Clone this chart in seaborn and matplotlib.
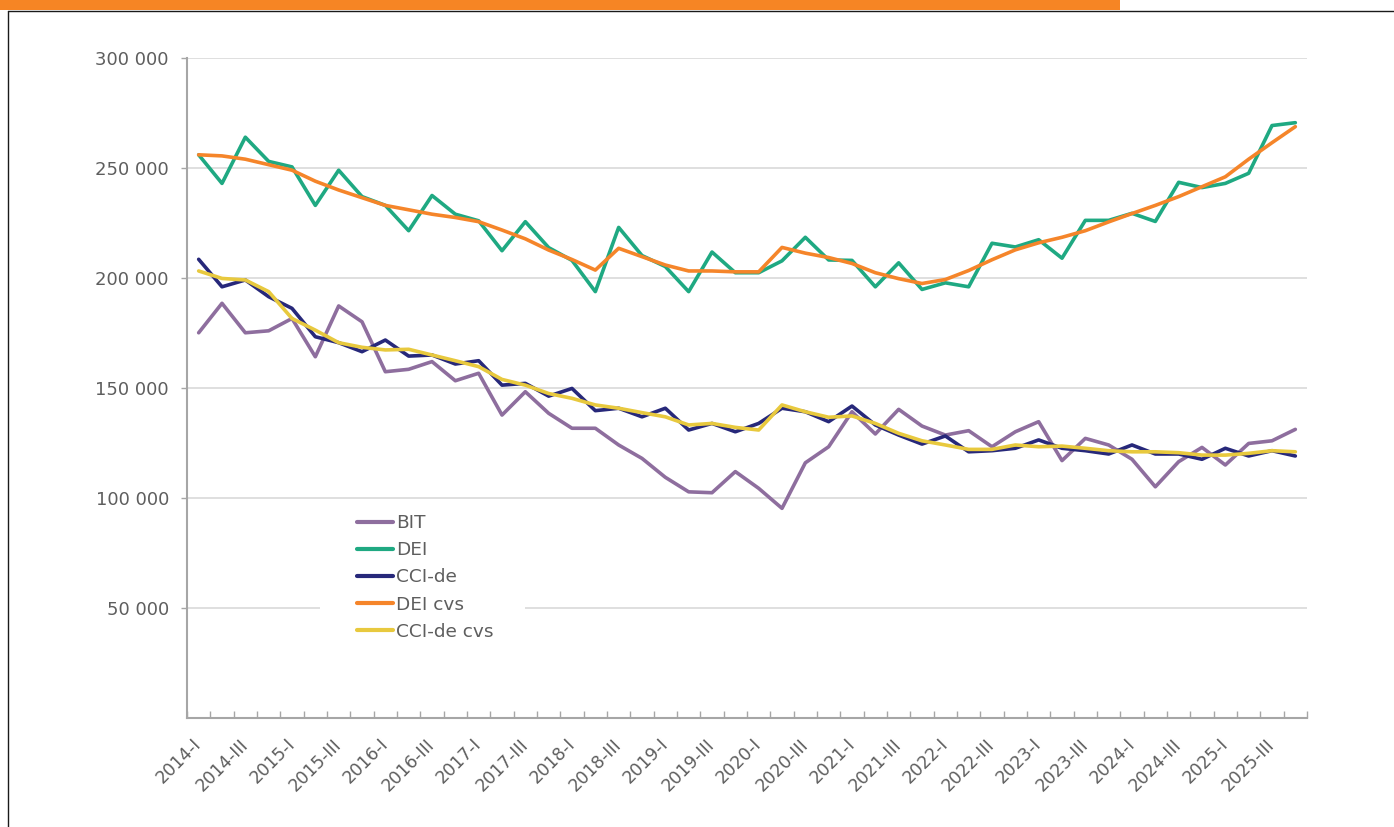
import numpy as np
import pandas as pd
import matplotlib
matplotlib.use('Agg')
import matplotlib.pyplot as plt
from matplotlib.ticker import FuncFormatter
from matplotlib.patches import Rectangle
from matplotlib.lines import Line2D
import seaborn as sns

# quarters 2014-I .. 2025-IV
quarters = [f"{y}-{q}" for y in range(2014, 2026) for q in ["I", "II", "III", "IV"]]

bit = [175100, 188500, 175100, 176000, 181600, 164200, 187300, 180100, 157400, 158500,
       162000, 153300, 156700, 137700, 148300, 138500, 131700, 131700, 124100, 118000,
       109400, 102800, 102400, 112000, 104400, 95300, 116000, 123300, 139200, 129100,
       140300, 132700, 128600, 130600, 123300, 130100, 134700, 117000, 127100, 124100,
       117600, 105100, 116500, 123000, 115000, 124800, 126000, 131200]

dei = [256000, 243000, 264000, 253000, 250500, 233000, 249000, 237000, 233000, 221500,
       237500, 229000, 226000, 212400, 225600, 213800, 208000, 193800, 223000, 210200,
       205200, 193800, 211800, 202400, 202400, 207800, 218500, 208200, 208000, 196000,
       206900, 194800, 197800, 196000, 215800, 214100, 217400, 209000, 226200, 226200,
       229400, 225700, 243500, 241100, 243000, 247600, 269300, 270600]

cci_de = [208500, 196000, 199100, 191500, 186200, 173300, 170600, 166500, 171800, 164500,
          165000, 160900, 162400, 151300, 152100, 146300, 149800, 139700, 140800, 136900,
          140800, 130900, 133900, 130100, 133900, 140800, 139200, 134700, 141800, 133200,
          128600, 124500, 128200, 121000, 121500, 122600, 126400, 122600, 121500, 120000,
          124100, 120000, 120000, 117600, 122600, 119100, 121500, 119100]

dei_cvs = [256000, 255500, 254000, 251500, 249000, 244000, 240000, 236500, 233000, 231000,
           229000, 227500, 225600, 221800, 217800, 212700, 208400, 203600, 213500, 209700,
           205900, 203200, 203200, 202800, 202800, 213900, 211300, 209300, 206600, 202400,
           199700, 197500, 199300, 203400, 208300, 212800, 216000, 218500, 221500, 225500,
           229300, 233000, 237000, 241500, 246000, 254000, 261500, 268800]

cci_de_cvs = [203200, 199800, 199100, 193800, 181600, 176300, 170600, 168500, 167300, 167600,
              165000, 162400, 159700, 153900, 151300, 147500, 145300, 142300, 140800, 138800,
              136900, 133200, 133900, 132100, 130900, 142300, 139200, 136700, 137300, 133900,
              129400, 126000, 124100, 122100, 122100, 124100, 123300, 123600, 122600, 121500,
              121000, 121000, 120600, 119500, 119500, 120300, 121500, 121000]

series_names = ["BIT", "DEI", "CCI-de", "DEI cvs", "CCI-de cvs"]
series_colors = {"BIT": "#8E6E9E", "DEI": "#1FA982", "CCI-de": "#27287A",
                 "DEI cvs": "#F5852A", "CCI-de cvs": "#E8C93E"}

frames = []
for name, vals in zip(series_names, [bit, dei, cci_de, dei_cvs, cci_de_cvs]):
    frames.append(pd.DataFrame({"pos": np.arange(len(quarters)), "quarter": quarters,
                                "value": vals, "serie": name}))
df = pd.concat(frames, ignore_index=True)

sns.set_theme(style="white")
plt.rcParams['font.family'] = ['DejaVu Sans']
text_color = "#5E5E5E"

fig = plt.figure(figsize=(13.94, 8.27), dpi=100)
ax = fig.add_axes([187 / 1394, 1 - 718 / 827, 1120 / 1394, 660 / 827])

sns.lineplot(data=df, x="pos", y="value", hue="serie", hue_order=series_names,
             palette=series_colors, linewidth=2.6, sort=False, ax=ax)

ax.set_xlim(-0.5, len(quarters) - 0.5)
ax.set_ylim(0, 300000)
ax.set_xlabel("")
ax.set_ylabel("")

# y axis
ax.set_yticks(np.arange(50000, 300001, 50000))
ax.yaxis.set_major_formatter(FuncFormatter(lambda v, p: f"{int(v):,}".replace(",", " ")))
ax.grid(axis="y", color="#D9D9D9", linewidth=1.2)
ax.set_axisbelow(True)
ax.tick_params(axis="y", which="major", left=True, length=4, width=1, color="#A6A6A6",
               pad=9, labelsize=13, labelcolor=text_color)

# x axis
ax.set_xticks(np.arange(0, len(quarters), 2))
ax.set_xticklabels(quarters[::2], rotation=45, ha="right", va="center", rotation_mode="anchor")
ax.set_xticks(np.arange(-0.5, len(quarters), 1), minor=True)
ax.tick_params(axis="x", which="major", length=0, pad=17, labelsize=12.5, labelcolor=text_color)
ax.tick_params(axis="x", which="minor", bottom=True, direction="in", length=5, width=1,
               color="#A6A6A6")

for side in ["top", "right"]:
    ax.spines[side].set_visible(False)
for side in ["left", "bottom"]:
    ax.spines[side].set_color("#A6A6A6")
    ax.spines[side].set_linewidth(1.5)

# legend with white box hiding the grid line behind it
handles, labels = ax.get_legend_handles_labels()
ax.get_legend().remove()
ax.add_patch(Rectangle(((320 - 187) / 1120, (718 - 650) / 660), 205 / 1120, 145 / 660,
                       transform=ax.transAxes, facecolor="white", edgecolor="none", zorder=1))
leg = ax.legend(handles, labels, frameon=False, loc="upper left",
                bbox_to_anchor=(357 / 1394, 1 - 514 / 827), bbox_transform=fig.transFigure,
                borderpad=0, borderaxespad=0, handlelength=1.95, handletextpad=0.15,
                labelspacing=0.5, fontsize=13.3)
for h in leg.legend_handles:
    h.set_linewidth(3)
for t in leg.get_texts():
    t.set_color(text_color)

# frame decorations
fig.add_artist(Rectangle((0, 1 - 10 / 827), 1120 / 1394, 10 / 827, transform=fig.transFigure,
                         facecolor="#F68524", edgecolor="none"))
fig.add_artist(Line2D([8 / 1394, 1], [1 - 10.5 / 827] * 2, transform=fig.transFigure,
                      color="#1A1A1A", linewidth=1))
fig.add_artist(Line2D([8 / 1394] * 2, [0, 1 - 10.5 / 827], transform=fig.transFigure,
                      color="#1A1A1A", linewidth=1))

fig.savefig("out.png", dpi=100, facecolor="white")
